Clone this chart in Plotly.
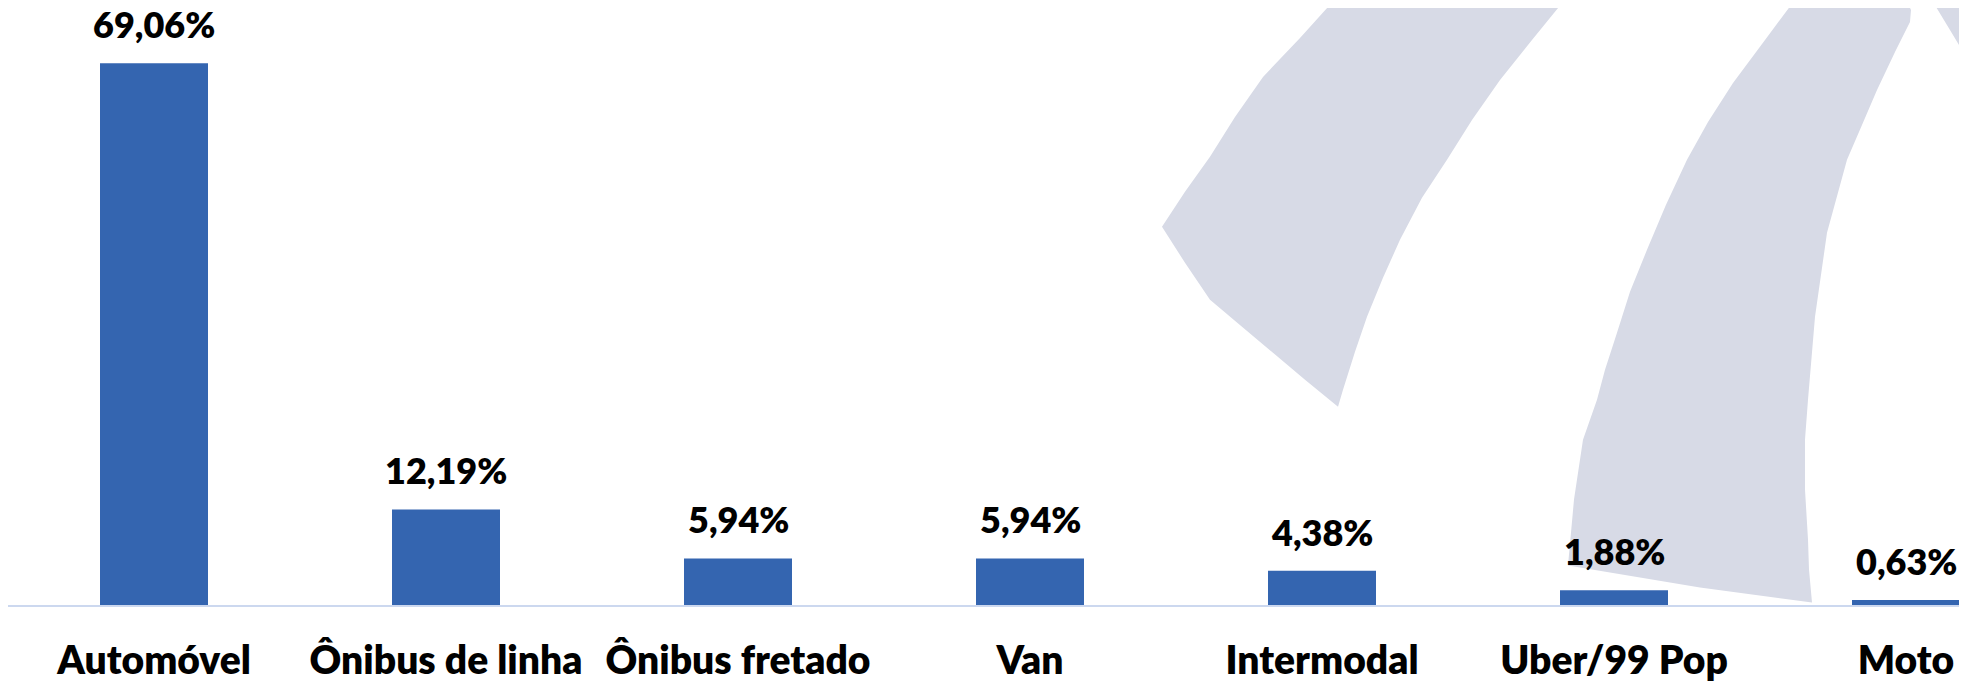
import plotly.graph_objects as go

categories = ["Automóvel", "Ônibus de linha", "Ônibus fretado", "Van", "Intermodal", "Uber/99 Pop", "Moto"]
values = [69.06, 12.19, 5.94, 5.94, 4.38, 1.88, 0.63]
value_labels = [f"{v:.2f}".replace(".", ",") + "%" for v in values]

# the page body adds an 8px offset; figure pixel = reference pixel - 8
OFF = 8
W, H = 1967, 681
AXIS_Y = 605.5 - OFF           # axis line position in figure pixels
L, R, T = 0, 0, 0
B = H - AXIS_Y
PW, PH = W - L - R, H - T - B
SPACING = 292.0
YMAX = PH / 7.851

BAR = "#3465B0"
WM = "#D7DAE6"
FONT = "Lato"


def px(x, y):
    # reference pixel -> paper coordinates
    x, y = x - OFF, y - OFF
    return (x - L) / PW, (AXIS_Y - y) / PH


def path(points):
    s = ""
    for i, (x, y) in enumerate(points):
        a, b = px(x, y)
        s += ("M" if i == 0 else "L") + f"{a:.5f},{b:.5f} "
    return s + "Z"


band1 = [(1337, -3), (1300, 38), (1263, 77), (1235, 117), (1210, 157), (1185, 192), (1162, 227),
         (1185, 263), (1210, 300), (1242, 327), (1273, 353), (1305, 380), (1338, 407),
         (1343, 390), (1355, 352), (1367, 317), (1383, 278), (1400, 240), (1422, 198), (1447, 160),
         (1472, 120), (1500, 80), (1532, 40), (1567, -3)]
chip = [(1025, -3), (1046, -3), (1034, 7)]
band2 = [(1797, -3), (1765, 40), (1733, 83), (1708, 122), (1687, 160), (1666, 205), (1647, 250),
         (1630, 292), (1617, 333), (1605, 370), (1597, 400), (1583, 440), (1574, 500), (1568, 566),
         (1610, 573), (1700, 588), (1812, 603),
         (1809, 570), (1808, 540), (1805, 490), (1805, 440), (1808, 400), (1815, 317), (1827, 233),
         (1847, 160), (1862, 125), (1877, 90), (1895, 52), (1910, 22), (1911, 10), (1905, -3)]
band3 = [(1930, -3), (1950, 30), (1975, 72), (1975, -3)]

shapes = []
for pts in (band1, chip, band2, band3):
    shapes.append(dict(type="path", xref="paper", yref="paper", path=path(pts),
                       fillcolor=WM, line=dict(width=0), layer="below"))

fig = go.Figure()
fig.add_trace(go.Bar(
    x=list(range(len(categories))), y=values,
    marker=dict(color=BAR, line=dict(width=0)),
    width=108 / SPACING,
    hoverinfo="skip",
))

annotations = []
for i, (v, t) in enumerate(zip(values, value_labels)):
    annotations.append(dict(x=i, y=v, xref="x", yref="y", text=t, showarrow=False,
                            yanchor="bottom", yshift=15,
                            font=dict(family=FONT, size=36, color="#000000", weight=800)))

fig.update_layout(
    width=W, height=H,
    margin=dict(l=L, r=R, t=T, b=B, pad=0),
    paper_bgcolor="white", plot_bgcolor="rgba(0,0,0,0)",
    showlegend=False,
    shapes=shapes,
    annotations=annotations,
    xaxis=dict(
        range=[-0.5 + (OFF - 8) / SPACING, -0.5 + PW / SPACING],
        tickmode="array", tickvals=list(range(len(categories))), ticktext=categories,
        showgrid=False, zeroline=False, showline=True, linecolor="#CCD8EF", linewidth=2,
        ticks="", ticklabelstandoff=20,
        tickfont=dict(family=FONT, size=39, color="#000000", weight=800),
        fixedrange=True,
    ),
    yaxis=dict(range=[0, YMAX], visible=False, fixedrange=True),
)

fig.write_html("out.html")
